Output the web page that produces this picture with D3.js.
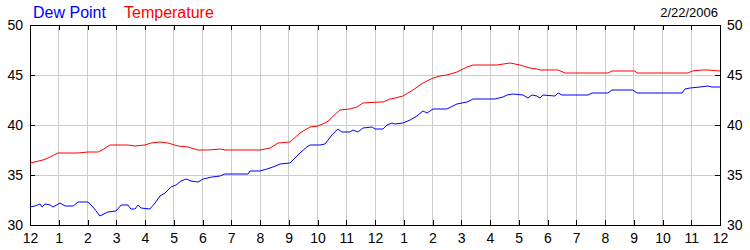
<!DOCTYPE html>
<html>
<head>
<meta charset="utf-8">
<script src="https://cdn.jsdelivr.net/npm/d3@7"></script>
<style>
  body { margin: 0; background: #fff; }
  svg { display: block; font-family: "Liberation Sans", Arial, sans-serif; }
</style>
</head>
<body>
<div id="chart"></div>
<script>
// hours since midnight
const tempHours = [0, 0.45, 0.63, 0.97, 1.32, 1.67, 2.02, 2.37, 2.57, 2.78, 3.06, 3.41, 3.65, 4.0, 4.21, 4.52, 4.8, 5.15, 5.5, 5.84, 6.19, 6.61, 6.78, 8.0, 8.35, 8.63, 9.04, 9.39, 9.74, 10.02, 10.33, 10.78, 11.13, 11.37, 11.58, 12.17, 12.28, 12.52, 12.7, 12.97, 13.32, 13.67, 14.02, 14.26, 14.5, 14.85, 15.2, 15.41, 16.24, 16.7, 17.04, 17.39, 17.63, 17.74, 18.37, 18.61, 20.1, 20.24, 21.04, 21.11, 22.89, 23.03, 23.37, 23.58, 24];
const tempValues = [36.2, 36.5, 36.7, 37.2, 37.2, 37.2, 37.3, 37.3, 37.6, 38.0, 38.0, 38.0, 37.9, 38.0, 38.2, 38.3, 38.2, 37.9, 37.8, 37.5, 37.5, 37.6, 37.5, 37.5, 37.7, 38.2, 38.3, 39.2, 39.8, 39.9, 40.3, 41.5, 41.6, 41.8, 42.2, 42.3, 42.3, 42.6, 42.7, 42.9, 43.5, 44.2, 44.7, 44.9, 45.0, 45.3, 45.8, 46.0, 46.0, 46.2, 46.0, 45.7, 45.6, 45.5, 45.5, 45.2, 45.2, 45.4, 45.4, 45.2, 45.2, 45.4, 45.5, 45.5, 45.4];

const dewHours = [0, 0.17, 0.35, 0.42, 0.52, 0.7, 0.8, 1.04, 1.22, 1.5, 1.67, 2.02, 2.19, 2.3, 2.43, 2.71, 2.99, 3.17, 3.41, 3.51, 3.65, 3.76, 3.86, 4.17, 4.35, 4.52, 4.7, 4.9, 5.08, 5.25, 5.43, 5.6, 5.84, 6.02, 6.33, 6.61, 6.78, 7.58, 7.65, 8.0, 8.24, 8.45, 8.7, 9.04, 9.15, 9.39, 9.63, 9.74, 10.09, 10.26, 10.37, 10.5, 10.71, 10.85, 11.13, 11.23, 11.41, 11.58, 11.9, 12.0, 12.28, 12.42, 12.59, 12.7, 12.97, 13.22, 13.46, 13.67, 13.81, 14.02, 14.5, 14.85, 15.2, 15.41, 16.17, 16.45, 16.59, 16.8, 17.15, 17.32, 17.46, 17.63, 17.74, 17.84, 18.26, 18.37, 18.5, 19.41, 19.55, 20.1, 20.24, 20.97, 21.11, 22.68, 22.78, 22.96, 23.3, 23.58, 23.72, 24];
const dewValues = [31.8, 31.9, 32.1, 31.8, 32.1, 32.0, 31.8, 32.2, 31.9, 31.9, 32.3, 32.3, 31.8, 31.4, 30.9, 31.3, 31.4, 32.0, 32.0, 31.6, 31.6, 32.0, 31.7, 31.6, 32.2, 32.9, 33.2, 33.8, 34.0, 34.4, 34.6, 34.4, 34.3, 34.6, 34.8, 34.9, 35.1, 35.1, 35.4, 35.4, 35.6, 35.8, 36.1, 36.2, 36.5, 37.2, 37.8, 38.0, 38.0, 38.1, 38.5, 39.0, 39.6, 39.3, 39.3, 39.5, 39.3, 39.7, 39.8, 39.6, 39.6, 40.0, 40.2, 40.1, 40.2, 40.5, 40.9, 41.4, 41.2, 41.6, 41.6, 42.1, 42.3, 42.6, 42.6, 42.8, 43.0, 43.1, 43.0, 42.7, 43.0, 42.9, 42.7, 43.0, 42.9, 43.2, 43.0, 43.0, 43.2, 43.2, 43.5, 43.5, 43.2, 43.2, 43.6, 43.7, 43.8, 43.9, 43.8, 43.8];

const hourTicks = d3.range(0, 25);
const hourLabels = ["12", "1", "2", "3", "4", "5", "6", "7", "8", "9", "10", "11", "12", "1", "2", "3", "4", "5", "6", "7", "8", "9", "10", "11", "12"];
const yTicks = [30, 35, 40, 45, 50];
const dateLabel = "2/22/2006";

const width = 750, height = 250;
const margin = { top: 25, right: 30, bottom: 25, left: 30 };

const svg = d3.select("#chart").append("svg")
  .attr("width", width)
  .attr("height", height);

const x = d3.scaleLinear().domain([0, 24]).range([margin.left, width - margin.right]);
const y = d3.scaleLinear().domain([30, 50]).range([height - margin.bottom, margin.top]);

// grid
svg.append("g")
  .selectAll("line")
  .data(hourTicks.slice(1, -1))
  .join("line")
  .attr("x1", d => x(d)).attr("x2", d => x(d))
  .attr("y1", y(50)).attr("y2", y(30))
  .attr("stroke", "#cccccc")
  .attr("shape-rendering", "crispEdges");

svg.append("g")
  .selectAll("line")
  .data(yTicks.slice(1, -1))
  .join("line")
  .attr("x1", x(0)).attr("x2", x(24))
  .attr("y1", d => y(d)).attr("y2", d => y(d))
  .attr("stroke", "#cccccc")
  .attr("shape-rendering", "crispEdges");

// axes, ticks pointing inward
function styleAxis(g) {
  g.attr("shape-rendering", "crispEdges");
  g.select(".domain").attr("stroke", "#000");
  g.selectAll(".tick line").attr("stroke", "#000");
  g.selectAll("text").attr("fill", "#000").style("font-size", "14px").attr("font-family", null);
}

svg.append("g")
  .attr("transform", `translate(0, ${y(30)})`)
  .call(d3.axisBottom(x).tickValues(hourTicks).tickSizeInner(-5).tickSizeOuter(0).tickPadding(8)
    .tickFormat((d, i) => hourLabels[i]))
  .call(styleAxis);

svg.append("g")
  .attr("transform", `translate(0, ${y(50)})`)
  .call(d3.axisTop(x).tickValues(hourTicks).tickSizeInner(-5).tickSizeOuter(0).tickFormat(""))
  .call(styleAxis);

svg.append("g")
  .attr("transform", `translate(${x(0)}, 0)`)
  .call(d3.axisLeft(y).tickValues(yTicks).tickSizeInner(-5).tickSizeOuter(0).tickPadding(7))
  .call(styleAxis);

svg.append("g")
  .attr("transform", `translate(${x(24)}, 0)`)
  .call(d3.axisRight(y).tickValues(yTicks).tickSizeInner(-5).tickSizeOuter(0).tickPadding(7))
  .call(styleAxis);

// lines
const tempData = tempHours.map((h, i) => ({ h: h, v: tempValues[i] }));
const dewData = dewHours.map((h, i) => ({ h: h, v: dewValues[i] }));

const line = d3.line()
  .x(d => x(d.h))
  .y(d => y(d.v));

svg.append("path")
  .datum(tempData)
  .attr("fill", "none")
  .attr("stroke", "#ff0000")
  .attr("stroke-width", 1)
  .attr("d", line);

svg.append("path")
  .datum(dewData)
  .attr("fill", "none")
  .attr("stroke", "#0000ff")
  .attr("stroke-width", 1)
  .attr("d", line);

// legend / title
svg.append("text")
  .attr("x", 33).attr("y", 18)
  .style("font-size", "16px")
  .attr("fill", "#0000ff")
  .text("Dew Point");

svg.append("text")
  .attr("x", 124).attr("y", 18)
  .style("font-size", "16px")
  .attr("fill", "#ff0000")
  .text("Temperature");

svg.append("text")
  .attr("x", 718).attr("y", 17)
  .attr("text-anchor", "end")
  .style("font-size", "13px")
  .attr("fill", "#000")
  .text(dateLabel);
</script>
</body>
</html>
